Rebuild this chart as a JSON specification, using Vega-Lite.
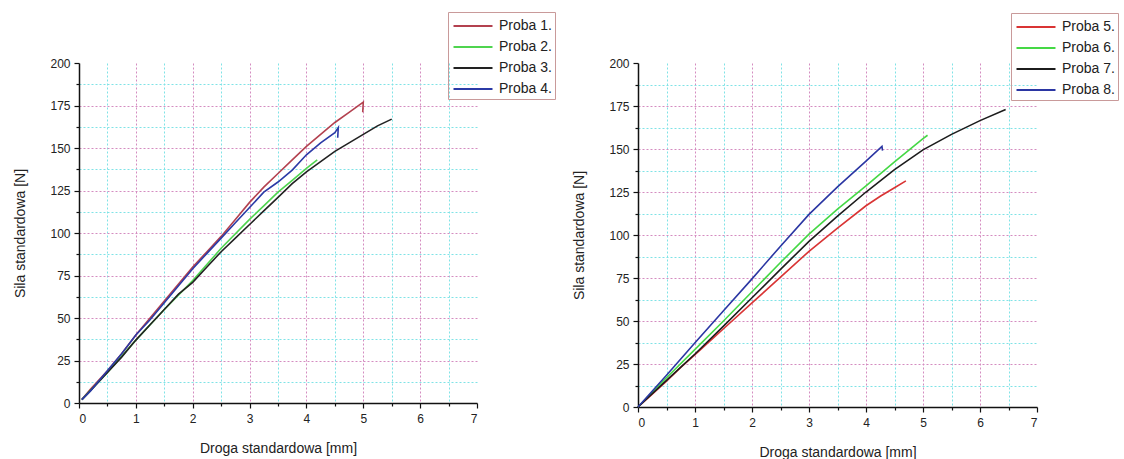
{
  "$schema": "https://vega.github.io/schema/vega-lite/v6.json",
  "background": "white",
  "padding": {"left": 13, "top": 11, "right": 5, "bottom": 5},
  "spacing": 16,
  "datasets": {
    "left": [
      {"s": "Proba 1.", "i": 1, "x": 0.05, "y": 2}, {"s": "Proba 1.", "i": 2, "x": 0.2, "y": 8}, {"s": "Proba 1.", "i": 3, "x": 0.5, "y": 19}, {"s": "Proba 1.", "i": 4, "x": 0.75, "y": 29}, {"s": "Proba 1.", "i": 5, "x": 1, "y": 40}, {"s": "Proba 1.", "i": 6, "x": 1.25, "y": 50}, {"s": "Proba 1.", "i": 7, "x": 1.5, "y": 60}, {"s": "Proba 1.", "i": 8, "x": 1.75, "y": 70}, {"s": "Proba 1.", "i": 9, "x": 2, "y": 80}, {"s": "Proba 1.", "i": 10, "x": 2.25, "y": 89}, {"s": "Proba 1.", "i": 11, "x": 2.5, "y": 98}, {"s": "Proba 1.", "i": 12, "x": 2.75, "y": 108}, {"s": "Proba 1.", "i": 13, "x": 3, "y": 118}, {"s": "Proba 1.", "i": 14, "x": 3.25, "y": 127}, {"s": "Proba 1.", "i": 15, "x": 3.5, "y": 135}, {"s": "Proba 1.", "i": 16, "x": 3.75, "y": 143}, {"s": "Proba 1.", "i": 17, "x": 4, "y": 151}, {"s": "Proba 1.", "i": 18, "x": 4.25, "y": 158}, {"s": "Proba 1.", "i": 19, "x": 4.5, "y": 165}, {"s": "Proba 1.", "i": 20, "x": 4.75, "y": 171}, {"s": "Proba 1.", "i": 21, "x": 5, "y": 177}, {"s": "Proba 1.", "i": 22, "x": 4.99, "y": 171},
      {"s": "Proba 2.", "i": 1, "x": 0.05, "y": 2}, {"s": "Proba 2.", "i": 2, "x": 0.5, "y": 18}, {"s": "Proba 2.", "i": 3, "x": 1, "y": 37}, {"s": "Proba 2.", "i": 4, "x": 1.5, "y": 55}, {"s": "Proba 2.", "i": 5, "x": 2, "y": 72}, {"s": "Proba 2.", "i": 6, "x": 2.5, "y": 91}, {"s": "Proba 2.", "i": 7, "x": 3, "y": 108}, {"s": "Proba 2.", "i": 8, "x": 3.25, "y": 116}, {"s": "Proba 2.", "i": 9, "x": 3.5, "y": 124}, {"s": "Proba 2.", "i": 10, "x": 3.75, "y": 131}, {"s": "Proba 2.", "i": 11, "x": 4, "y": 138}, {"s": "Proba 2.", "i": 12, "x": 4.19, "y": 143},
      {"s": "Proba 3.", "i": 1, "x": 0.05, "y": 2}, {"s": "Proba 3.", "i": 2, "x": 0.25, "y": 9}, {"s": "Proba 3.", "i": 3, "x": 0.5, "y": 18}, {"s": "Proba 3.", "i": 4, "x": 0.75, "y": 27}, {"s": "Proba 3.", "i": 5, "x": 1, "y": 37}, {"s": "Proba 3.", "i": 6, "x": 1.25, "y": 46}, {"s": "Proba 3.", "i": 7, "x": 1.5, "y": 55}, {"s": "Proba 3.", "i": 8, "x": 1.75, "y": 64}, {"s": "Proba 3.", "i": 9, "x": 2, "y": 71}, {"s": "Proba 3.", "i": 10, "x": 2.25, "y": 80}, {"s": "Proba 3.", "i": 11, "x": 2.5, "y": 89}, {"s": "Proba 3.", "i": 12, "x": 2.75, "y": 97}, {"s": "Proba 3.", "i": 13, "x": 3, "y": 105}, {"s": "Proba 3.", "i": 14, "x": 3.25, "y": 113}, {"s": "Proba 3.", "i": 15, "x": 3.5, "y": 121}, {"s": "Proba 3.", "i": 16, "x": 3.75, "y": 129}, {"s": "Proba 3.", "i": 17, "x": 4, "y": 136}, {"s": "Proba 3.", "i": 18, "x": 4.25, "y": 142}, {"s": "Proba 3.", "i": 19, "x": 4.5, "y": 148}, {"s": "Proba 3.", "i": 20, "x": 4.75, "y": 153}, {"s": "Proba 3.", "i": 21, "x": 5, "y": 158}, {"s": "Proba 3.", "i": 22, "x": 5.25, "y": 163}, {"s": "Proba 3.", "i": 23, "x": 5.5, "y": 167},
      {"s": "Proba 4.", "i": 1, "x": 0.05, "y": 2}, {"s": "Proba 4.", "i": 2, "x": 0.2, "y": 7}, {"s": "Proba 4.", "i": 3, "x": 0.5, "y": 19}, {"s": "Proba 4.", "i": 4, "x": 0.75, "y": 29}, {"s": "Proba 4.", "i": 5, "x": 1, "y": 40}, {"s": "Proba 4.", "i": 6, "x": 1.25, "y": 49}, {"s": "Proba 4.", "i": 7, "x": 1.5, "y": 59}, {"s": "Proba 4.", "i": 8, "x": 1.75, "y": 69}, {"s": "Proba 4.", "i": 9, "x": 2, "y": 79}, {"s": "Proba 4.", "i": 10, "x": 2.25, "y": 88}, {"s": "Proba 4.", "i": 11, "x": 2.5, "y": 97}, {"s": "Proba 4.", "i": 12, "x": 2.75, "y": 106}, {"s": "Proba 4.", "i": 13, "x": 3, "y": 115}, {"s": "Proba 4.", "i": 14, "x": 3.25, "y": 124}, {"s": "Proba 4.", "i": 15, "x": 3.5, "y": 130}, {"s": "Proba 4.", "i": 16, "x": 3.75, "y": 137}, {"s": "Proba 4.", "i": 17, "x": 4, "y": 146}, {"s": "Proba 4.", "i": 18, "x": 4.25, "y": 153}, {"s": "Proba 4.", "i": 19, "x": 4.5, "y": 159}, {"s": "Proba 4.", "i": 20, "x": 4.56, "y": 162}, {"s": "Proba 4.", "i": 21, "x": 4.55, "y": 156}
    ],
    "right": [
      {"s": "Proba 5.", "i": 1, "x": 0, "y": 0}, {"s": "Proba 5.", "i": 2, "x": 0.25, "y": 7.5}, {"s": "Proba 5.", "i": 3, "x": 0.5, "y": 15}, {"s": "Proba 5.", "i": 4, "x": 0.75, "y": 23}, {"s": "Proba 5.", "i": 5, "x": 1, "y": 30.5}, {"s": "Proba 5.", "i": 6, "x": 1.5, "y": 45.5}, {"s": "Proba 5.", "i": 7, "x": 2, "y": 60.5}, {"s": "Proba 5.", "i": 8, "x": 2.5, "y": 75.5}, {"s": "Proba 5.", "i": 9, "x": 3, "y": 90.5}, {"s": "Proba 5.", "i": 10, "x": 3.5, "y": 104}, {"s": "Proba 5.", "i": 11, "x": 4, "y": 117}, {"s": "Proba 5.", "i": 12, "x": 4.25, "y": 122.5}, {"s": "Proba 5.", "i": 13, "x": 4.5, "y": 127.5}, {"s": "Proba 5.", "i": 14, "x": 4.7, "y": 131.5},
      {"s": "Proba 6.", "i": 1, "x": 0, "y": 0}, {"s": "Proba 6.", "i": 2, "x": 0.5, "y": 17}, {"s": "Proba 6.", "i": 3, "x": 1, "y": 33.5}, {"s": "Proba 6.", "i": 4, "x": 1.5, "y": 50}, {"s": "Proba 6.", "i": 5, "x": 2, "y": 67}, {"s": "Proba 6.", "i": 6, "x": 2.5, "y": 84}, {"s": "Proba 6.", "i": 7, "x": 3, "y": 100.5}, {"s": "Proba 6.", "i": 8, "x": 3.5, "y": 115}, {"s": "Proba 6.", "i": 9, "x": 4, "y": 128.5}, {"s": "Proba 6.", "i": 10, "x": 4.5, "y": 142.5}, {"s": "Proba 6.", "i": 11, "x": 5, "y": 156}, {"s": "Proba 6.", "i": 12, "x": 5.08, "y": 158},
      {"s": "Proba 7.", "i": 1, "x": 0, "y": 0}, {"s": "Proba 7.", "i": 2, "x": 0.5, "y": 15.5}, {"s": "Proba 7.", "i": 3, "x": 1, "y": 30.8}, {"s": "Proba 7.", "i": 4, "x": 1.5, "y": 47}, {"s": "Proba 7.", "i": 5, "x": 2, "y": 63.5}, {"s": "Proba 7.", "i": 6, "x": 2.5, "y": 80}, {"s": "Proba 7.", "i": 7, "x": 3, "y": 96.3}, {"s": "Proba 7.", "i": 8, "x": 3.5, "y": 111}, {"s": "Proba 7.", "i": 9, "x": 4, "y": 125}, {"s": "Proba 7.", "i": 10, "x": 4.5, "y": 138}, {"s": "Proba 7.", "i": 11, "x": 5, "y": 149.5}, {"s": "Proba 7.", "i": 12, "x": 5.5, "y": 158.5}, {"s": "Proba 7.", "i": 13, "x": 6, "y": 166.5}, {"s": "Proba 7.", "i": 14, "x": 6.45, "y": 173},
      {"s": "Proba 8.", "i": 1, "x": 0, "y": 0}, {"s": "Proba 8.", "i": 2, "x": 0.5, "y": 18.5}, {"s": "Proba 8.", "i": 3, "x": 1, "y": 37.4}, {"s": "Proba 8.", "i": 4, "x": 1.5, "y": 56}, {"s": "Proba 8.", "i": 5, "x": 2, "y": 74.5}, {"s": "Proba 8.", "i": 6, "x": 2.5, "y": 93.5}, {"s": "Proba 8.", "i": 7, "x": 3, "y": 112}, {"s": "Proba 8.", "i": 8, "x": 3.5, "y": 128}, {"s": "Proba 8.", "i": 9, "x": 4, "y": 143}, {"s": "Proba 8.", "i": 10, "x": 4.28, "y": 151.5}, {"s": "Proba 8.", "i": 11, "x": 4.29, "y": 149}
    ]
  },
  "config": {
    "font": "Liberation Sans",
    "view": {"stroke": null},
    "axis": {
      "domainColor": "#111",
      "domainWidth": 1.5,
      "tickColor": "#111",
      "tickWidth": 1.2,
      "labelFontSize": 12,
      "labelColor": "#222",
      "titleFontSize": 14,
      "titleFontWeight": "normal",
      "titleColor": "#222",
      "gridDash": [2, 2],
      "gridWidth": 1
    },
    "axisX": {"labelPadding": 5, "titlePadding": 17},
    "axisY": {"labelPadding": 4, "titlePadding": 22},
    "legend": {
      "labelFontSize": 14,
      "labelColor": "#222",
      "labelFont": "Liberation Sans"
    }
  },
  "resolve": {"scale": {"color": "independent"}},
  "hconcat": [
    {
      "width": 398,
      "height": 340,
      "data": {"name": "left"},
      "mark": {"type": "line", "strokeWidth": 1.6},
      "encoding": {
        "x": {"field": "x", "type": "quantitative", "scale": {"domain": [0, 7], "nice": false},
          "axis": {"title": "Droga standardowa [mm]", "values": [0, 0.5, 1, 1.5, 2, 2.5, 3, 3.5, 4, 4.5, 5, 5.5, 6, 6.5, 7],
            "labelExpr": "datum.value % 1 === 0 ? '' + datum.value : ''",
            "tickSize": {"condition": {"test": "datum.value % 1 !== 0", "value": 3}, "value": 5},
            "gridColor": {"condition": {"test": "datum.value % 1 !== 0", "value": "#7fe3e6"}, "value": "#d48cc0"},
            "gridOpacity": {"condition": {"test": "datum.value >= 7 || datum.value <= 0", "value": 0}, "value": 1}}},
        "y": {"field": "y", "type": "quantitative", "scale": {"domain": [0, 200], "nice": false},
          "axis": {"title": "Sila standardowa [N]", "values": [0, 12.5, 25, 37.5, 50, 62.5, 75, 87.5, 100, 112.5, 125, 137.5, 150, 162.5, 175, 187.5, 200],
            "labelExpr": "datum.value % 25 === 0 ? '' + datum.value : ''",
            "tickSize": {"condition": {"test": "datum.value % 25 !== 0", "value": 3}, "value": 5},
            "gridColor": {"condition": {"test": "datum.value % 25 !== 0", "value": "#7fe3e6"}, "value": "#d48cc0"},
            "gridOpacity": {"condition": {"test": "datum.value >= 200 || datum.value <= 0", "value": 0}, "value": 1}}},
        "order": {"field": "i", "type": "quantitative"},
        "color": {"field": "s", "type": "nominal",
          "scale": {"domain": ["Proba 1.", "Proba 2.", "Proba 3.", "Proba 4."], "range": ["#b3414f", "#4fd44f", "#222222", "#2b3aa6"]},
          "legend": {"title": null, "orient": "none", "legendX": 369, "legendY": -51, "symbolType": "M-2,0H2", "symbolSize": 380, "symbolStrokeWidth": 2, "symbolOffset": 11, "strokeColor": "#c99a9a", "padding": 3, "rowPadding": 3, "labelOffset": 15}}
      }
    },
    {
      "width": 399,
      "height": 344,
      "data": {"name": "right"},
      "mark": {"type": "line", "strokeWidth": 1.6},
      "encoding": {
        "x": {"field": "x", "type": "quantitative", "scale": {"domain": [0, 7], "nice": false},
          "axis": {"title": "Droga standardowa [mm]", "values": [0, 0.5, 1, 1.5, 2, 2.5, 3, 3.5, 4, 4.5, 5, 5.5, 6, 6.5, 7],
            "labelExpr": "datum.value % 1 === 0 ? '' + datum.value : ''",
            "tickSize": {"condition": {"test": "datum.value % 1 !== 0", "value": 3}, "value": 5},
            "gridColor": {"condition": {"test": "datum.value % 1 !== 0", "value": "#7fe3e6"}, "value": "#d48cc0"},
            "gridOpacity": {"condition": {"test": "datum.value >= 7 || datum.value <= 0", "value": 0}, "value": 1}}},
        "y": {"field": "y", "type": "quantitative", "scale": {"domain": [0, 200], "nice": false},
          "axis": {"title": "Sila standardowa [N]", "values": [0, 12.5, 25, 37.5, 50, 62.5, 75, 87.5, 100, 112.5, 125, 137.5, 150, 162.5, 175, 187.5, 200],
            "labelExpr": "datum.value % 25 === 0 ? '' + datum.value : ''",
            "tickSize": {"condition": {"test": "datum.value % 25 !== 0", "value": 3}, "value": 5},
            "gridColor": {"condition": {"test": "datum.value % 25 !== 0", "value": "#7fe3e6"}, "value": "#d48cc0"},
            "gridOpacity": {"condition": {"test": "datum.value >= 200 || datum.value <= 0", "value": 0}, "value": 1}}},
        "order": {"field": "i", "type": "quantitative"},
        "color": {"field": "s", "type": "nominal",
          "scale": {"domain": ["Proba 5.", "Proba 6.", "Proba 7.", "Proba 8."], "range": ["#d93434", "#45d845", "#1c1c1c", "#2b36a3"]},
          "legend": {"title": null, "orient": "none", "legendX": 373, "legendY": -50, "symbolType": "M-2,0H2", "symbolSize": 380, "symbolStrokeWidth": 2, "symbolOffset": 11, "strokeColor": "#c99a9a", "padding": 3, "rowPadding": 3, "labelOffset": 15}}
      }
    }
  ]
}
